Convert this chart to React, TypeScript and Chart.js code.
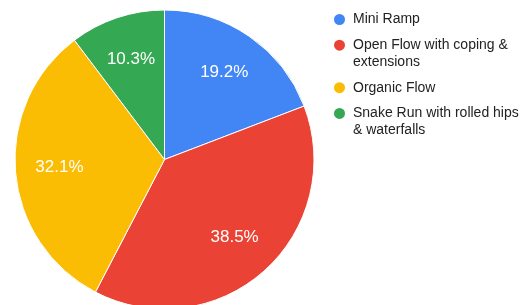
import React, { useEffect, useRef } from "react";
import { Chart, registerables } from "chart.js";

Chart.register(...registerables);

const categories = [
  "Mini Ramp",
  "Open Flow with coping & extensions",
  "Organic Flow",
  "Snake Run with rolled hips & waterfalls",
];
const legendLines = [
  ["Mini Ramp"],
  ["Open Flow with coping &", "extensions"],
  ["Organic Flow"],
  ["Snake Run with rolled hips", "& waterfalls"],
];
const values = [19.2, 38.5, 32.1, 10.3];
const colors = ["#4285f4", "#ea4335", "#fbbc04", "#34a853"];

const FONT = "Arial, 'Liberation Sans', sans-serif";

const sliceLabels = {
  id: "sliceLabels",
  afterDatasetsDraw(chart: any) {
    const ctx = chart.ctx;
    const meta = chart.getDatasetMeta(0);
    ctx.save();
    ctx.fillStyle = "#ffffff";
    ctx.font = `17px ${FONT}`;
    ctx.textAlign = "center";
    ctx.textBaseline = "middle";
    meta.data.forEach((arc: any, i: number) => {
      const p = arc.getProps(["x", "y", "startAngle", "endAngle", "outerRadius"], true);
      const mid = (p.startAngle + p.endAngle) / 2;
      const r = p.outerRadius * 0.705;
      ctx.fillText(values[i].toFixed(1) + "%", p.x + Math.cos(mid) * r, p.y + Math.sin(mid) * r - 0.5);
    });
    ctx.restore();
  },
};

const sideLegend = {
  id: "sideLegend",
  afterDraw(chart: any) {
    const ctx = chart.ctx;
    ctx.save();
    ctx.font = `14px ${FONT}`;
    ctx.textBaseline = "middle";
    ctx.textAlign = "left";
    let y = 19.5;
    legendLines.forEach((lines, i) => {
      ctx.fillStyle = colors[i];
      ctx.beginPath();
      ctx.arc(339.5, y, 5.5, 0, Math.PI * 2);
      ctx.fill();
      ctx.fillStyle = "#222222";
      lines.forEach((ln, j) => {
        ctx.fillText(ln, 353, y + j * 16.8);
      });
      y += 25.7 + (lines.length - 1) * 16.8;
    });
    ctx.restore();
  },
};

export default function App() {
  const ref = useRef<HTMLCanvasElement>(null);
  useEffect(() => {
    if (!ref.current) return;
    const chart = new Chart(ref.current, {
      type: "pie",
      data: {
        labels: categories,
        datasets: [
          {
            data: values,
            backgroundColor: colors,
            borderColor: "#ffffff",
            borderWidth: 1,
          },
        ],
      },
      options: {
        responsive: false,
        animation: false,
        layout: { padding: { left: 14.5, right: 215.5, top: 9.5, bottom: 10.5 } },
        plugins: {
          legend: { display: false },
          tooltip: { enabled: false },
        },
      },
      plugins: [sliceLabels, sideLegend],
    });
    return () => chart.destroy();
  }, []);
  return (
    <div
      style={{
        position: "fixed",
        left: 0,
        top: 0,
        width: 530,
        height: 305,
        overflow: "hidden",
        background: "#ffffff",
      }}
    >
      <canvas ref={ref} width={530} height={320} style={{ width: 530, height: 320, display: "block" }} />
    </div>
  );
}
